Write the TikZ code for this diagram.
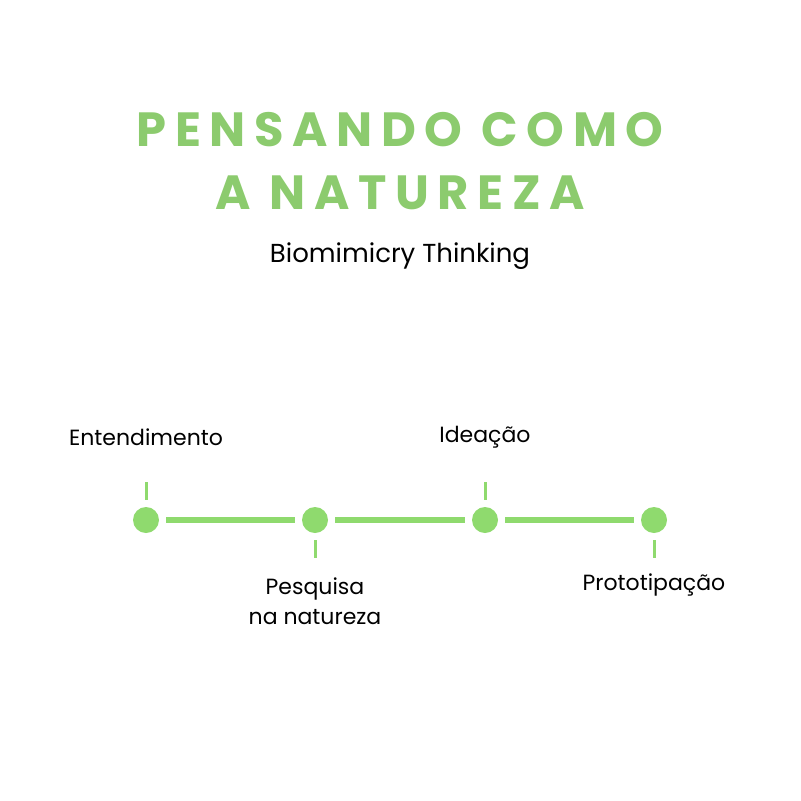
\documentclass[tikz,border=0pt]{standalone}
\usepackage{fontspec}
\setmainfont{Poppins}
\newfontfamily\titlefont[LetterSpace=18]{Poppins}
\usetikzlibrary{positioning}
\definecolor{titlegreen}{HTML}{8CCB6E}
\definecolor{dotgreen}{HTML}{8FDA6E}
\tikzset{
  stage/.style={circle, fill=dotgreen, minimum size=26pt, inner sep=0pt},
  link/.style={draw=dotgreen, line width=6pt, shorten <=7pt, shorten >=7pt},
  tick/.style={draw=dotgreen, line width=3pt},
  stagetext/.style={font=\fontsize{22}{30}\selectfont, align=center, text=black}
}
\begin{document}
\begin{tikzpicture}[x=1pt, y=-1pt]
\useasboundingbox (0,0) rectangle (801,801);
\node [font=\titlefont\bfseries\fontsize{48}{60}\selectfont, text=titlegreen] (T1) at (400,130) {PENSANDO COMO};
\node [font=\titlefont\bfseries\fontsize{48}{60}\selectfont, text=titlegreen] (T2) at (400,193) {A NATUREZA};
\node [font=\fontsize{26}{32}\selectfont] (sub) at (400,256) {Biomimicry Thinking};
% stages
\node [stage] (S1) at (146,520) {};
\node [stage] (S2) at (315,520) {};
\node [stage] (S3) at (485,520) {};
\node [stage] (S4) at (654,520) {};
\draw [link] (S1) -- (S2);
\draw [link] (S2) -- (S3);
\draw [link] (S3) -- (S4);
\coordinate (t1a) at (146,482); \coordinate (t1b) at (146,500);
\coordinate (t2a) at (315,540); \coordinate (t2b) at (315,558);
\coordinate (t3a) at (485,482); \coordinate (t3b) at (485,500);
\coordinate (t4a) at (654,540); \coordinate (t4b) at (654,558);
\draw [tick] (t1a) -- (t1b);
\draw [tick] (t2a) -- (t2b);
\draw [tick] (t3a) -- (t3b);
\draw [tick] (t4a) -- (t4b);
\node [stagetext] (L1) at (146,437) {Entendimento};
\node [stagetext] (L3) at (485,437) {Ideação};
\node [stagetext] (L2) at (315,601) {Pesquisa\\na natureza};
\node [stagetext] (L4) at (654,585) {Prototipação};
\end{tikzpicture}
\end{document}
